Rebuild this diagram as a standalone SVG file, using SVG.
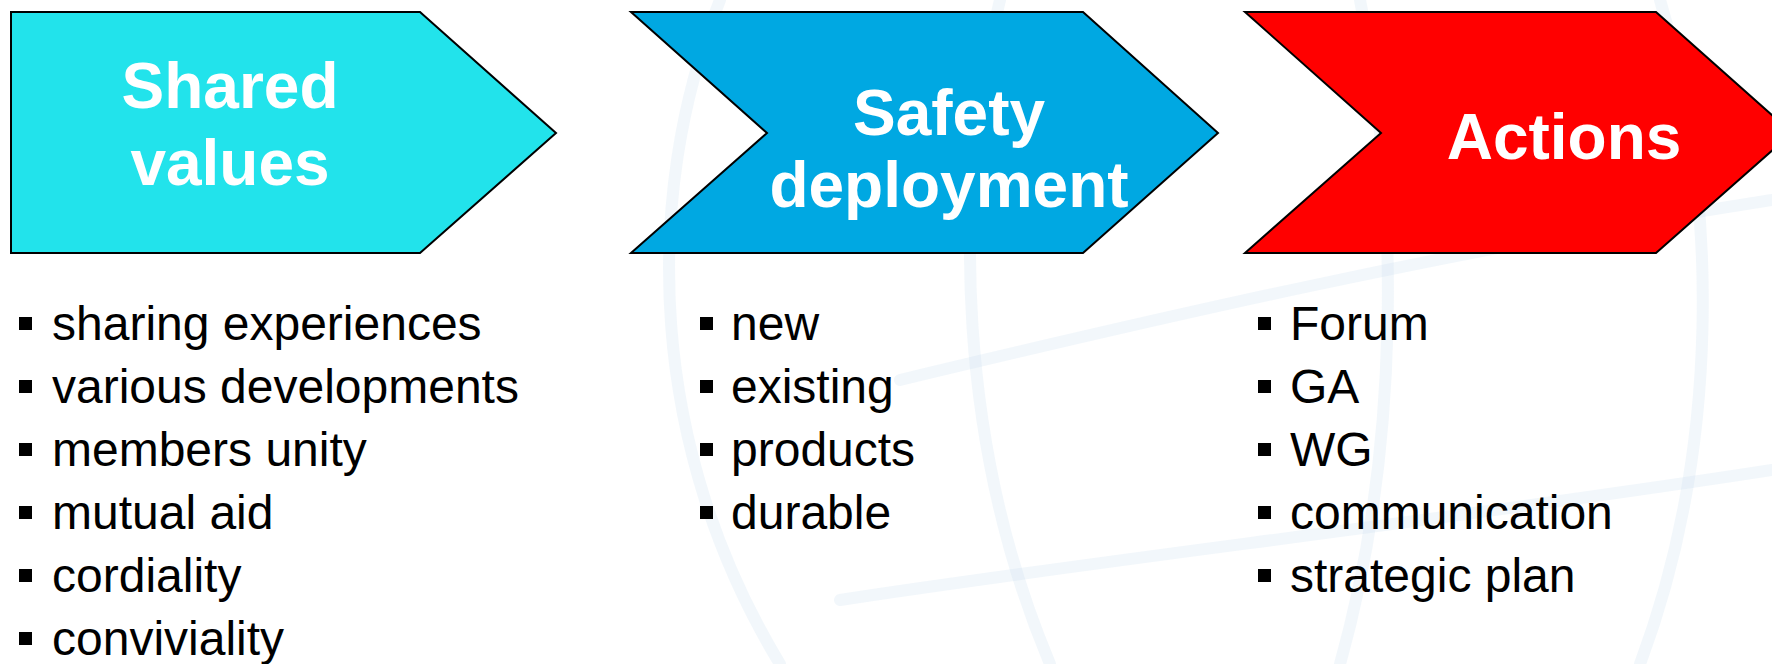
<svg xmlns="http://www.w3.org/2000/svg" width="1772" height="664" viewBox="0 0 1772 664">
<style>
.shape{stroke:#000;stroke-width:2;stroke-linejoin:miter}
.title{font-family:"Liberation Sans",Arial,sans-serif;font-weight:bold;font-size:64px;fill:#fff;text-anchor:middle}
.item{font-family:"Liberation Sans",Arial,sans-serif;font-size:48px;fill:#000}
.bul{fill:#000}
.globe{fill:none;stroke:#c6dced;stroke-width:12;opacity:0.22;stroke-linecap:round}
</style>
<rect width="1772" height="664" fill="#fff"/>
<g id="watermark">
<path class="globe" d="M720,0 C640,200 650,450 780,664"/>
<path class="globe" d="M1360,0 C1400,200 1400,450 1340,664"/>
<path class="globe" d="M1660,0 C1720,200 1720,450 1640,664"/>
<path class="globe" d="M900,380 C1150,320 1450,250 1772,200"/>
<path class="globe" d="M840,600 C1100,560 1450,520 1772,470"/>
<path class="globe" d="M1000,0 C950,200 960,450 1050,664"/>
</g>
<g id="node-shared-values">
<path class="shape" fill="#22E3EB" d="M11,12 L420,12 L556,133 L420,253 L11,253 Z"/>
<text class="title" x="230" y="108">Shared</text>
<text class="title" x="230" y="185">values</text>
</g>
<g id="node-safety-deployment">
<path class="shape" fill="#00A8E2" d="M631,12 L1083,12 L1218,133 L1083,253 L631,253 L767,133 Z"/>
<text class="title" x="949" y="135">Safety</text>
<text class="title" x="949" y="207">deployment</text>
</g>
<g id="node-actions">
<path class="shape" fill="#FF0000" d="M1245,12 L1656,12 L1792,133 L1656,253 L1245,253 L1381,133 Z"/>
<text class="title" x="1564" y="159">Actions</text>
</g>
<g id="list-shared-values">
<rect class="bul" x="19" y="317" width="13" height="13"/>
<rect class="bul" x="19" y="380" width="13" height="13"/>
<rect class="bul" x="19" y="443" width="13" height="13"/>
<rect class="bul" x="19" y="506" width="13" height="13"/>
<rect class="bul" x="19" y="569" width="13" height="13"/>
<rect class="bul" x="19" y="632" width="13" height="13"/>
<text class="item" x="52" y="340">sharing experiences</text>
<text class="item" x="52" y="403">various developments</text>
<text class="item" x="52" y="466">members unity</text>
<text class="item" x="52" y="529">mutual aid</text>
<text class="item" x="52" y="592">cordiality</text>
<text class="item" x="52" y="655">conviviality</text>
</g>
<g id="list-safety-deployment">
<rect class="bul" x="700" y="317" width="13" height="13"/>
<rect class="bul" x="700" y="380" width="13" height="13"/>
<rect class="bul" x="700" y="443" width="13" height="13"/>
<rect class="bul" x="700" y="506" width="13" height="13"/>
<text class="item" x="731" y="340">new</text>
<text class="item" x="731" y="403">existing</text>
<text class="item" x="731" y="466">products</text>
<text class="item" x="731" y="529">durable</text>
</g>
<g id="list-actions">
<rect class="bul" x="1258" y="317" width="13" height="13"/>
<rect class="bul" x="1258" y="380" width="13" height="13"/>
<rect class="bul" x="1258" y="443" width="13" height="13"/>
<rect class="bul" x="1258" y="506" width="13" height="13"/>
<rect class="bul" x="1258" y="569" width="13" height="13"/>
<text class="item" x="1290" y="340">Forum</text>
<text class="item" x="1290" y="403">GA</text>
<text class="item" x="1290" y="466">WG</text>
<text class="item" x="1290" y="529">communication</text>
<text class="item" x="1290" y="592">strategic plan</text>
</g>
<g id="connectors"></g>
</svg>
